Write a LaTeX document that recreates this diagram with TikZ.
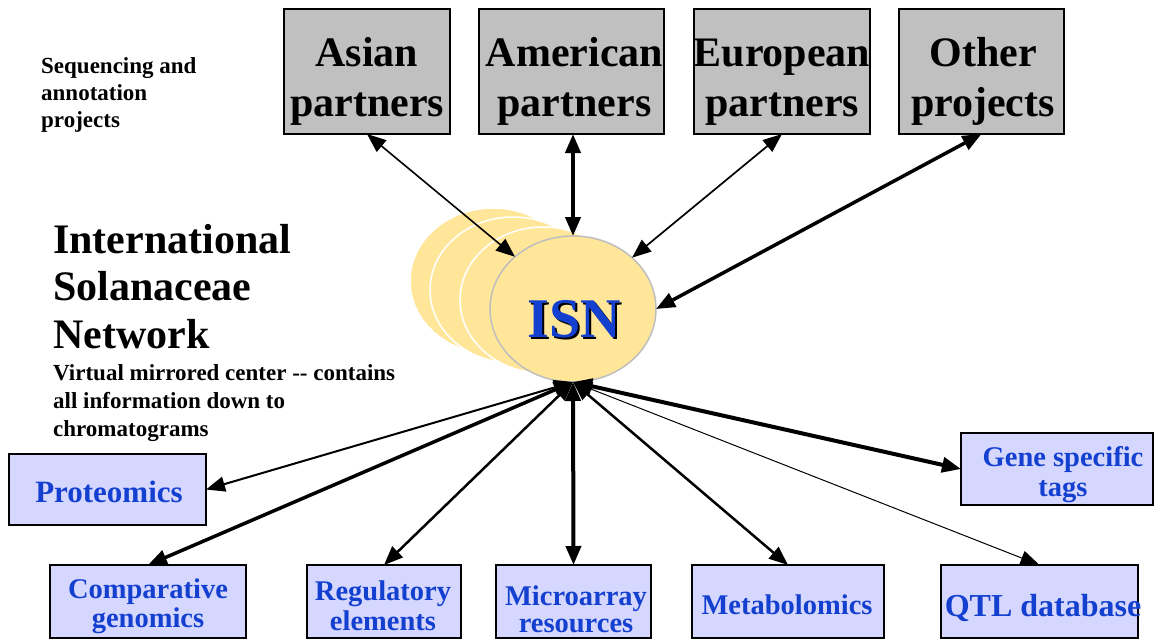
\documentclass[tikz,border=0pt]{standalone}
\usepackage{fontspec}
\setmainfont{Liberation Serif}
\usetikzlibrary{arrows.meta,shapes.geometric}
\definecolor{topgray}{RGB}{192,192,192}
\definecolor{boxfill}{RGB}{214,215,255}
\definecolor{txtblue}{RGB}{20,64,208}
\definecolor{isnyellow}{RGB}{255,230,153}
\definecolor{isnborder}{RGB}{190,190,190}
\begin{document}
\begin{tikzpicture}[x=1pt,y=-1pt,
  topbox/.style={draw=black, line width=1.8pt, fill=topgray, rectangle, inner sep=0pt, outer sep=0pt, minimum height=125pt},
  botbox/.style={draw=black, line width=1.5pt, fill=boxfill, rectangle, inner sep=0pt, outer sep=0pt},
  toptext/.style={font=\fontsize{42}{50}\selectfont\bfseries, align=center, inner sep=0pt},
  bottext/.style={font=\fontsize{28.5}{30}\selectfont\bfseries, text=txtblue, align=center, inner sep=0pt},
  lefttext/.style={align=left, inner sep=0pt, anchor=west},
  backell/.style={fill=isnyellow, draw=white, line width=1.5pt},
  link/.style={{Triangle[length=19pt,width=15pt]}-{Triangle[length=19pt,width=15pt]}, line width=#1},
]
\useasboundingbox (0,0) rectangle (1154,640);

% top boxes
\node[topbox, minimum width=166pt] (asian) at (367,71.5) {};
\node[topbox, minimum width=185pt] (american) at (571.5,71.5) {};
\node[topbox, minimum width=176pt] (european) at (782,71.5) {};
\node[topbox, minimum width=165pt] (other) at (981.5,71.5) {};
\node[toptext] (asiant) at (367,81) {\strut Asian\\\strut partners\strut};
\node[toptext] (americant) at (574.5,81) {\strut American\\\strut partners\strut};
\node[toptext] (europeant) at (782,81) {\strut European\\\strut partners\strut};
\node[toptext] (othert) at (983,81) {\strut Other\\\strut projects\strut};

% left texts
\node[lefttext, font=\fontsize{23}{27}\selectfont\bfseries] (seq) at (41,94.6)
  {\strut Sequencing and\\\strut annotation\\\strut projects};
\node[lefttext, font=\fontsize{42}{47.5}\selectfont\bfseries] (isntitle) at (53,291)
  {\strut International\\\strut Solanaceae\\\strut Network};
\node[lefttext, font=\fontsize{23}{28}\selectfont\bfseries] (virtual) at (53,403.1)
  {\strut Virtual mirrored center {-}{-} contains\\\strut all information down to\\\strut chromatograms};

% ISN stack
\filldraw[backell] (493,281) ellipse [x radius=83pt, y radius=73pt];
\filldraw[backell] (513,290) ellipse [x radius=83pt, y radius=73pt];
\filldraw[backell] (543,300) ellipse [x radius=83pt, y radius=73pt];
\node[ellipse, fill=isnyellow, draw=isnborder, line width=1.5pt, minimum width=166pt, minimum height=146pt, inner sep=0pt, outer sep=0pt] (isn) at (573,309) {};
\node[anchor=base, inner sep=0pt, font=\fontsize{56}{60}\selectfont\bfseries, text=black] (isnshadow) at (576,339) {ISN};
\node[anchor=base, inner sep=0pt, font=\fontsize{56}{60}\selectfont\bfseries, text=txtblue] (isnlabel) at (574,337) {ISN};

% bottom boxes
\node[botbox, minimum width=197pt, minimum height=71pt] (prot) at (107.5,489.5) {};
\node[botbox, minimum width=192pt, minimum height=72pt] (gene) at (1057,469) {};
\node[botbox, minimum width=196pt, minimum height=73pt] (comp) at (148,601.5) {};
\node[botbox, minimum width=154pt, minimum height=73pt] (reg) at (384,601.5) {};
\node[botbox, minimum width=155pt, minimum height=73pt] (micro) at (573.5,601.5) {};
\node[botbox, minimum width=192pt, minimum height=73pt] (metab) at (788,601.5) {};
\node[botbox, minimum width=197pt, minimum height=73pt] (qtl) at (1039.5,601.5) {};

\node[bottext, anchor=base, font=\fontsize{31}{33}\selectfont\bfseries] (prott) at (109,502.7) {Proteomics};
\node[bottext] (genet) at (1063,475.7) {\strut Gene specific\\\strut tags\strut};
\node[bottext, font=\fontsize{28.5}{29}\selectfont\bfseries] (compt) at (148,606.7) {\strut Comparative\\\strut genomics\strut};
\node[bottext] (regt) at (383,609) {\strut Regulatory\\\strut elements\strut};
\node[bottext, font=\fontsize{28.5}{27}\selectfont\bfseries] (microt) at (576,613.1) {\strut Microarray\\\strut resources\strut};
\node[bottext, anchor=base] (metabt) at (787,614) {Metabolomics};
\node[bottext, anchor=base, font=\fontsize{32}{34}\selectfont\bfseries] (qtlt) at (1043,616.7) {QTL database};

% connectors
\draw[link=1.6pt] (asian.south) -- (isn.138);
\draw[link=4pt] (isn.north |- american.south) -- (isn.north);
\draw[link=1.7pt] (european.south) -- (isn.41);
\draw[link=3.5pt] (other.south) -- (isn.east);

\draw[link=2pt] (isn.south) -- (prot.east);
\draw[link=3.5pt] (isn.south) -- (comp.north);
\draw[link=2.5pt] (isn.south) -- (reg.north);
\draw[link=4pt] (isn.south) -- (micro.north);
\draw[link=2.5pt] (isn.south) -- (metab.north);
\draw[link=1pt] (isn.south) -- (qtl.north);
\draw[link=4pt] (isn.south) -- (gene.west);
\end{tikzpicture}
\end{document}
